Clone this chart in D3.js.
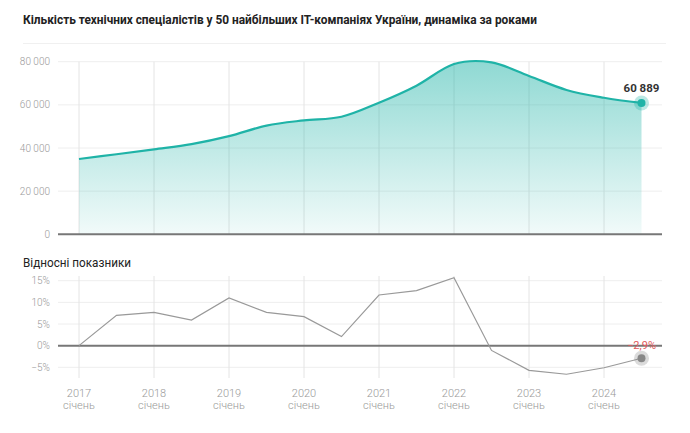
<!DOCTYPE html>
<html><head><meta charset="utf-8">
<script src="https://cdn.jsdelivr.net/npm/d3@7"></script>
<style>
html,body{margin:0;padding:0;background:#fff;}
svg{display:block;font-family:Roboto, "Noto Sans", sans-serif;}
</style></head>
<body>
<svg id="chart" width="690" height="433"></svg>
<script>
// ---- data ----
const periods = [2017, 2017.5, 2018, 2018.5, 2019, 2019.5, 2020, 2020.5, 2021, 2021.5, 2022, 2022.5, 2023, 2023.5, 2024, 2024.5];
const specialists = [34900, 37100, 39400, 41800, 45500, 50400, 52800, 54500, 61000, 68900, 78900, 79700, 73400, 66900, 63300, 60889];
const relative = [0, 7.0, 7.7, 5.9, 11.0, 7.7, 6.7, 2.1, 11.7, 12.7, 15.7, -1.1, -5.7, -6.6, -5.1, -2.9];
const yearTicks = [2017, 2018, 2019, 2020, 2021, 2022, 2023, 2024];
const monthLabel = "січень";
const topTicks = [0, 20000, 40000, 60000, 80000];
const bottomTicks = [-5, 0, 5, 10, 15];
const title = "Кількість технічних спеціалістів у 50 найбільших IT-компаніях України, динаміка за роками";
const subtitle = "Відносні показники";

const svg = d3.select("#chart");
const teal = "#1fb3a7";
const gridX0 = 58, gridX1 = 662;

const x = d3.scaleLinear().domain([2017, 2024]).range([79, 604]);
const yTop = d3.scaleLinear().domain([0, 80000]).range([234.3, 61.7]);
const yBot = d3.scaleLinear().domain([-5, 15]).range([367.3, 280.7]);
const fmt = v => d3.format(",")(v).replace(/,/g, " ");

// title
svg.append("text").attr("x", 23).attr("y", 24).attr("font-size", 13).attr("font-weight", 700)
  .attr("fill", "#222").attr("textLength", 514).attr("lengthAdjust", "spacingAndGlyphs").text(title);
svg.append("line").attr("x1", 23).attr("x2", 666).attr("y1", 43.5).attr("y2", 43.5)
  .attr("stroke", "#f0f0f0").attr("stroke-width", 1);

// gradient
const defs = svg.append("defs");
const grad = defs.append("linearGradient").attr("id", "g").attr("x1", 0).attr("x2", 0).attr("y1", 0).attr("y2", 1);
grad.append("stop").attr("offset", "0%").attr("stop-color", teal).attr("stop-opacity", 0.5);
grad.append("stop").attr("offset", "100%").attr("stop-color", teal).attr("stop-opacity", 0.06);

// ---- top chart ----
const gTop = svg.append("g");
gTop.selectAll(".hg").data(topTicks.filter(d => d > 0)).join("line")
  .attr("x1", gridX0).attr("x2", gridX1).attr("y1", d => yTop(d)).attr("y2", d => yTop(d))
  .attr("stroke", "#eeeeee");
gTop.selectAll(".vg").data(yearTicks).join("line")
  .attr("x1", d => x(d)).attr("x2", d => x(d)).attr("y1", yTop(80000)).attr("y2", yTop(0))
  .attr("stroke", "#e4e4e4");

const pts = periods.map((p, i) => [p, specialists[i]]);
const curve = d3.curveCardinal.tension(0);
const area = d3.area().x(d => x(d[0])).y0(yTop(0)).y1(d => yTop(d[1])).curve(curve);
const line = d3.line().x(d => x(d[0])).y(d => yTop(d[1])).curve(curve);
gTop.append("path").attr("d", area(pts)).attr("fill", "url(#g)");
gTop.append("path").attr("d", line(pts)).attr("fill", "none").attr("stroke", teal).attr("stroke-width", 2.2);

gTop.selectAll(".yl").data(topTicks).join("text")
  .attr("x", 50).attr("y", d => yTop(d) + 3.5).attr("text-anchor", "end")
  .attr("font-size", 10).attr("font-weight", 300).attr("fill", "#999").text(d => fmt(d));

gTop.append("line").attr("x1", gridX0).attr("x2", gridX1).attr("y1", yTop(0)).attr("y2", yTop(0))
  .attr("stroke", "#777").attr("stroke-width", 2);

const last = pts[pts.length - 1];
gTop.append("circle").attr("cx", x(last[0])).attr("cy", yTop(last[1])).attr("r", 7.5)
  .attr("fill", teal).attr("opacity", 0.3);
gTop.append("circle").attr("cx", x(last[0])).attr("cy", yTop(last[1])).attr("r", 4).attr("fill", teal);
gTop.append("text").attr("x", x(last[0])).attr("y", yTop(last[1]) - 11).attr("text-anchor", "middle")
  .attr("font-size", 11.5).attr("font-weight", 700).attr("fill", "#333").text(fmt(last[1]));

// ---- bottom chart ----
svg.append("text").attr("x", 23).attr("y", 267).attr("font-size", 13).attr("fill", "#222")
  .attr("textLength", 108).attr("lengthAdjust", "spacingAndGlyphs").text(subtitle);
const gBot = svg.append("g");
gBot.selectAll(".hg").data(bottomTicks.filter(d => d !== 0)).join("line")
  .attr("x1", gridX0).attr("x2", gridX1).attr("y1", d => yBot(d)).attr("y2", d => yBot(d))
  .attr("stroke", "#eeeeee");
gBot.selectAll(".vg").data(yearTicks).join("line")
  .attr("x1", d => x(d)).attr("x2", d => x(d)).attr("y1", 276).attr("y2", 378)
  .attr("stroke", "#e4e4e4");
gBot.append("line").attr("x1", gridX0).attr("x2", gridX1).attr("y1", yBot(0)).attr("y2", yBot(0))
  .attr("stroke", "#777").attr("stroke-width", 2);
gBot.selectAll(".yl").data(bottomTicks).join("text")
  .attr("x", 50).attr("y", d => yBot(d) + 3.5).attr("text-anchor", "end")
  .attr("font-size", 10).attr("font-weight", 300).attr("fill", "#999")
  .text(d => (d < 0 ? "−" + Math.abs(d) : d) + "%");

const rpts = periods.map((p, i) => [p, relative[i]]);
gBot.append("path").attr("d", d3.line().x(d => x(d[0])).y(d => yBot(d[1]))(rpts))
  .attr("fill", "none").attr("stroke", "#999").attr("stroke-width", 1.2);
const rl = rpts[rpts.length - 1];
gBot.append("circle").attr("cx", x(rl[0])).attr("cy", yBot(rl[1])).attr("r", 7.5).attr("fill", "#888").attr("opacity", 0.3);
gBot.append("circle").attr("cx", x(rl[0])).attr("cy", yBot(rl[1])).attr("r", 4).attr("fill", "#888");
gBot.append("text").attr("x", x(rl[0])).attr("y", 349).attr("text-anchor", "middle")
  .attr("font-size", 11).attr("fill", "#e0595b")
  .text("−" + String(Math.abs(rl[1])).replace(".", ",") + "%");

// x labels
const gXl = svg.append("g");
gXl.selectAll(".yr").data(yearTicks).join("text")
  .attr("x", d => x(d)).attr("y", 397).attr("text-anchor", "middle")
  .attr("font-size", 11).attr("font-weight", 300).attr("fill", "#999").text(d => d);
gXl.selectAll(".mn").data(yearTicks).join("text")
  .attr("x", d => x(d)).attr("y", 409).attr("text-anchor", "middle")
  .attr("font-size", 11).attr("font-weight", 300).attr("fill", "#999").text(monthLabel);
</script>
</body></html>
